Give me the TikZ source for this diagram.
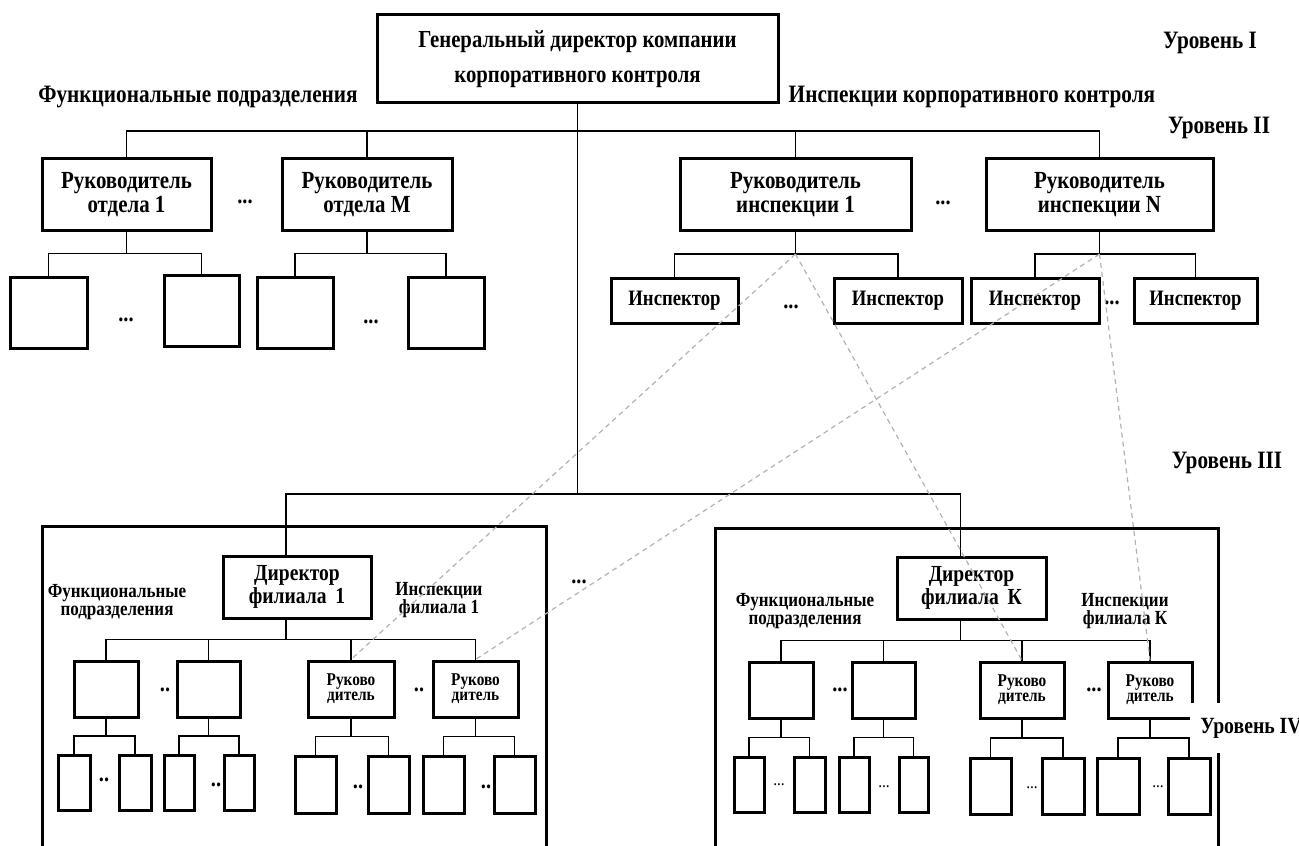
\documentclass[tikz,border=0pt]{standalone}
\usepackage{fontspec}
\setmainfont{Liberation Serif}[FakeStretch=0.85]
\usetikzlibrary{calc}

% parent #1 with children #2 .. #3 hanging from one bus
\newcommand\twig[3]{%
	\coordinate (#1m) at ($(#1.south)!.5!(#2.north)$);
	\draw[link] (#1.south) -- (#1.south |- #1m) coordinate (#1j);
	\draw[link] (#2.north) |- (#1m) -| (#3.north);
}

\begin{document}
\begin{tikzpicture}[x=0.5pt,y=-0.5pt,
	box/.style={draw, line width=1.5pt, fill=white, inner sep=0pt, align=center},
	wh/.style 2 args={minimum width=#1*0.5pt, minimum height=#2*0.5pt},
	big/.style={font=\bfseries\fontsize{12.2}{17.5}\selectfont},
	head/.style={font=\bfseries\fontsize{12.3}{10.5}\selectfont},
	insp/.style={font=\bfseries\fontsize{11}{12}\selectfont},
	dir/.style={font=\bfseries\fontsize{11.5}{9.5}\selectfont},
	sm/.style={font=\bfseries\fontsize{9}{7.5}\selectfont},
	lbl/.style={inner sep=0pt, font=\bfseries\fontsize{12.5}{14}\selectfont},
	sublbl/.style={inner sep=0pt, align=center, font=\bfseries\fontsize{10}{9}\selectfont},
	dots/.style={inner sep=0pt, font=\bfseries\fontsize{12}{12}\selectfont},
	tinydots/.style={inner sep=0pt, font=\fontsize{9}{9}\selectfont},
	link/.style={line width=0.6pt},
	frame/.style={line width=1.5pt},
	ctrl/.style={gray!60, line width=0.6pt, dash pattern=on 2.5pt off 2pt}]
	
	\useasboundingbox (0,0) rectangle (1299,845);
	\clip (0,0) rectangle (1299,845);
	
	% branch frames (open at the bottom)
	\draw[frame] (42,860) |- (546,526) -- (546,860);
	\draw[frame] (715,860) |- (1218,528) -- (1218,860);
	
	% level I
	\node[box, wh={401}{88}, big] (gd) at (577.5,59) {Генеральный директор компании\\корпоративного контроля};
	\node[lbl] (lv1) at (1210,43) {Уровень I};
	\node[lbl] (fu) at (198,97) {Функциональные подразделения};
	\node[lbl] (ins) at (972,97) {Инспекции корпоративного контроля};
	\node[lbl] (lv2) at (1219,128) {Уровень II};
	\node[lbl] (lv3) at (1227,463) {Уровень III};
	
	% level II
	\node[box, wh={169}{71}, head] (o1) at (126.5,194.5) {Руководитель\\отдела 1};
	\node[box, wh={170}{71}, head] (oM) at (367,194.5) {Руководитель\\отдела M};
	\node[box, wh={231}{71}, head] (i1) at (795.5,194.5) {Руководитель\\инспекции 1};
	\node[box, wh={227}{71}, head] (iN) at (1099.5,194.5) {Руководитель\\инспекции N};
	\node[dots] (do) at (245,202) {...};
	\node[dots] (di) at (943,203) {...};
	
	\coordinate (b2) at ($(gd.south)!.5!(o1.north)$);
	\draw[link] (o1.north) |- (b2) -| (iN.north);
	\foreach \n in {oM,i1} \draw[link] (\n.north) -- (\n.north |- b2);
	
	% departments and inspectors
	\node[box, wh={77}{71}] (o1a) at (48.5,312.5) {};
	\node[box, wh={75}{71}] (o1b) at (201.5,310.5) {};
	\node[box, wh={76}{71}] (oMa) at (295,312.5) {};
	\node[box, wh={76}{71}] (oMb) at (446,312.5) {};
	\node[box, wh={127}{45}, insp] (i1a) at (674.5,300.5) {Инспектор};
	\node[box, wh={128}{45}, insp] (i1b) at (898,300.5) {Инспектор};
	\node[box, wh={128}{45}, insp] (iNa) at (1035,300.5) {Инспектор};
	\node[box, wh={123}{45}, insp] (iNb) at (1195.5,301) {Инспектор};
	\node[dots] at (126,320) {...};
	\node[dots] at (371,322) {...};
	\node[dots] at (791,307) {...};
	\node[dots] at (1112,303) {...};
	
	\twig{o1}{o1a}{o1b}
	\twig{oM}{oMa}{oMb}
	\twig{i1}{i1a}{i1b}
	\twig{iN}{iNa}{iNb}
	
	% level III: branch directors
	\node[box, wh={148}{62}, dir] (d1) at (297,587) {Директор\\филиала\, 1};
	\node[box, wh={149}{62}, dir] (dK) at (971.5,588) {Директор\\филиала\, К};
	\node[dots] (db) at (579,582) {...};
	
	\coordinate (b3) at (577.5,494);
	\draw[link] (gd.south) -- (b3);
	\draw[link] ([xshift=-5.5pt]d1.north) |- (b3) -| ([xshift=-5.5pt]dK.north);
	
	\node[sublbl] (fu1) at (117,602) {Функциональные\\подразделения};
	\node[sublbl] (in1) at (439,600) {Инспекции\\филиала 1};
	\node[sublbl] (fuK) at (805,611) {Функциональные\\подразделения};
	\node[sublbl] (inK) at (1125,611) {Инспекции\\филиала К};
	
	% level IV, branch 1
	\node[box, wh={64}{56}] (f1) at (106,689) {};
	\node[box, wh={63}{56}] (f2) at (208.5,689) {};
	\node[box, wh={86}{56}, sm] (r1) at (351,689) {Руково\\дитель};
	\node[box, wh={85}{56}, sm] (r2) at (475.5,689) {Руково\\дитель};
	\node[dots] at (165,690) {..};
	\node[dots] at (419,690) {..};
	
	\coordinate (d1m) at ($(d1.south)!.5!(f1.north)$);
	\draw[link] ([xshift=-5.5pt]d1.south) -- ([xshift=-5.5pt]d1.south |- d1m);
	\draw[link] (f1.north) |- (d1m) -| (r2.north);
	\foreach \n in {f2,r1} \draw[link] (\n.north) -- (\n.north |- d1m);
	
	% level IV, branch K
	\node[box, wh={64}{56}] (g1) at (781,690) {};
	\node[box, wh={63}{56}] (g2) at (883.5,690) {};
	\node[box, wh={84}{56}, sm] (s1) at (1022,690) {Руково\\дитель};
	\node[box, wh={84}{56}, sm] (s2) at (1150,690) {Руково\\дитель};
	\node[dots] at (840,690) {...};
	\node[dots] at (1094,690) {...};
	
	\coordinate (dKm) at ($(dK.south)!.5!(g1.north)$);
	\draw[link] ([xshift=-5.5pt]dK.south) -- ([xshift=-5.5pt]dK.south |- dKm);
	\draw[link] (g1.north) |- (dKm) -| (s2.north);
	\foreach \n in {g2,s1} \draw[link] (\n.north) -- (\n.north |- dKm);
	
	% level V, branch 1
	\node[box, wh={32}{55}] (f1a) at (74,782.5) {};
	\node[box, wh={32}{55}] (f1b) at (135,782.5) {};
	\node[box, wh={30}{55}] (f2a) at (179,782.5) {};
	\node[box, wh={30}{55}] (f2b) at (239,782.5) {};
	\node[box, wh={41}{57}] (r1a) at (315.5,784.5) {};
	\node[box, wh={41}{57}] (r1b) at (388.5,784.5) {};
	\node[box, wh={41}{57}] (r2a) at (443.5,784.5) {};
	\node[box, wh={41}{57}] (r2b) at (514.5,784.5) {};
	\foreach \x/\y in {104/780, 216/785, 358/787, 486/787} \node[dots] at (\x,\y) {..};
	
	\twig{f1}{f1a}{f1b}
	\twig{f2}{f2a}{f2b}
	\twig{r1}{r1a}{r1b}
	\twig{r2}{r2a}{r2b}
	
	% level V, branch K
	\node[box, wh={30}{55}] (g1a) at (749,784.5) {};
	\node[box, wh={31}{55}] (g1b) at (809.5,784.5) {};
	\node[box, wh={30}{55}] (g2a) at (854,784.5) {};
	\node[box, wh={29}{55}] (g2b) at (913.5,784.5) {};
	\node[box, wh={41}{56}] (s1a) at (990.5,786) {};
	\node[box, wh={42}{56}] (s1b) at (1063,786) {};
	\node[box, wh={42}{56}] (s2a) at (1118,786) {};
	\node[box, wh={42}{56}] (s2b) at (1189,786) {};
	\foreach \x/\y in {779/785, 884/787, 1032/788, 1158/787} \node[tinydots] at (\x,\y) {...};
	
	\twig{g1}{g1a}{g1b}
	\twig{g2}{g2a}{g2b}
	\twig{s1}{s1a}{s1b}
	\twig{s2}{s2a}{s2b}
	
	\node[lbl, fill=white, anchor=west, inner xsep=5pt, minimum height=25pt,
		font=\bfseries\fontsize{11.6}{14}\selectfont] (lv4) at (1190,728) {Уровень IV};
	
	% inspections supervise the branch inspections
	\draw[ctrl] (i1j) -- (r1.north);
	\draw[ctrl] (i1j) -- (s1.north);
	\draw[ctrl] (iNj) -- (r2.north);
	\draw[ctrl] (iNj) -- (s2.north);
\end{tikzpicture}
\end{document}
